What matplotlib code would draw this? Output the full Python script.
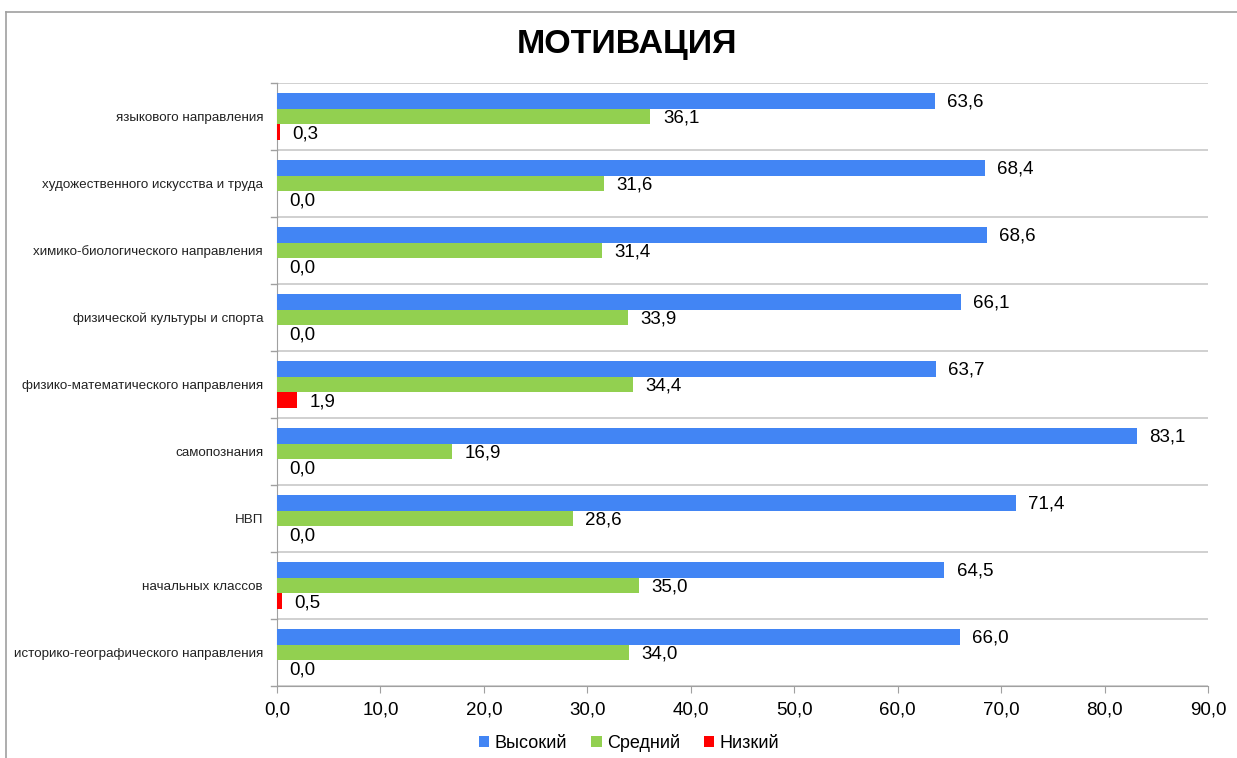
import matplotlib
matplotlib.use("Agg")
import matplotlib.pyplot as plt
import numpy as np
from matplotlib.lines import Line2D

plt.rcParams['font.family'] = ['Liberation Sans', 'DejaVu Sans']

categories = [
    "историко-географического направления",
    "начальных классов",
    "НВП",
    "самопознания",
    "физико-математического направления",
    "физической культуры и спорта",
    "химико-биологического направления",
    "художественного искусства и труда",
    "языкового направления",
]
high = [66.0, 64.5, 71.4, 83.1, 63.7, 66.1, 68.6, 68.4, 63.6]
mid = [34.0, 35.0, 28.6, 16.9, 34.4, 33.9, 31.4, 31.6, 36.1]
low = [0.0, 0.5, 0.0, 0.0, 1.9, 0.0, 0.0, 0.0, 0.3]
series_names = ["Высокий", "Средний", "Низкий"]
colors = ["#4285f4", "#92d050", "#ff0000"]
xticks = [0, 10, 20, 30, 40, 50, 60, 70, 80, 90]

W, H = 1237, 758
fig = plt.figure(figsize=(W / 100, H / 100), dpi=100)
ax = fig.add_axes([277 / W, 1 - 686 / H, (1208 - 277) / W, (686 - 83) / H])

# outer border (top and left visible)
fig.add_artist(Line2D([6 / W, 1.0], [1 - 12 / H, 1 - 12 / H], transform=fig.transFigure,
                      color="#a0a0a0", linewidth=1.2))
fig.add_artist(Line2D([6 / W, 6 / W], [0, 1 - 12 / H], transform=fig.transFigure,
                      color="#a0a0a0", linewidth=1.2))

y = np.arange(len(categories))
h = 0.235
offsets = [h, 0, -h]
for vals, off, col, name in zip([high, mid, low], offsets, colors, series_names):
    ax.barh(y + off, vals, height=h, color=col, label=name, zorder=3)
    for yy, v in zip(y + off, vals):
        ax.annotate(f"{v:.1f}".replace(".", ","), xy=(v, yy), xytext=(9, -1),
                    textcoords="offset points", va="center", ha="left",
                    fontsize=13.5, color="black")

ax.set_xlim(0, 90)
ax.set_ylim(-0.5, len(categories) - 0.5)
ax.set_xticks(xticks)
ax.set_xticklabels([f"{t:.1f}".replace(".", ",") for t in xticks], fontsize=13.5)
ax.set_yticks(y)
ax.set_yticklabels(categories, fontsize=9.6, color="#222222")
ax.tick_params(axis="y", length=0, pad=10)
ax.tick_params(axis="x", length=5, color="#a0a0a0", pad=6)

# horizontal gridlines between categories
for b in np.arange(-0.5, len(categories) + 0.5, 1.0):
    ax.axhline(b, color="#c8c8c8", linewidth=1.2, zorder=1)
    ax.plot([-0.6, 0], [b, b], color="#a0a0a0", linewidth=1.0, clip_on=False, zorder=2)

for s in ["top", "right"]:
    ax.spines[s].set_visible(False)
ax.spines["left"].set_color("#a0a0a0")
ax.spines["bottom"].set_color("#a0a0a0")

fig.text(627 / W, 1 - 44 / H, "МОТИВАЦИЯ", ha="center", va="center",
         fontsize=24.5, fontweight="bold")

fig.legend(loc="center", bbox_to_anchor=(629 / W, 1 - 743 / H), ncol=3,
           frameon=False, fontsize=13, handlelength=0.6, handleheight=0.6,
           handletextpad=0.3, columnspacing=1.3)

fig.savefig("out.png", dpi=100)
